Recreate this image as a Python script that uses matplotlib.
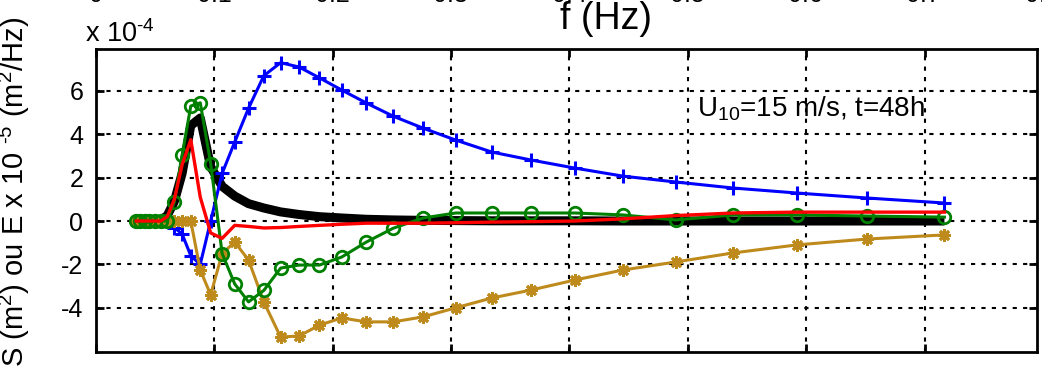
import matplotlib
matplotlib.use("Agg")
import matplotlib.pyplot as plt

plt.rcParams['font.family'] = ['Liberation Sans', 'DejaVu Sans']
plt.rcParams['mathtext.fontset'] = 'custom'
plt.rcParams['mathtext.rm'] = 'Liberation Sans'
plt.rcParams['mathtext.it'] = 'Liberation Sans:italic'
plt.rcParams['mathtext.default'] = 'regular'
plt.rcParams['axes.unicode_minus'] = False

# frequencies (Hz)
freq = [0.0340, 0.0374, 0.0411, 0.0452, 0.0497, 0.0547, 0.0602, 0.0662, 0.0728,
        0.0801, 0.0881, 0.0969, 0.1066, 0.1172, 0.1289, 0.1418, 0.1560, 0.1716,
        0.1888, 0.2076, 0.2284, 0.2512, 0.2764, 0.3040, 0.3344, 0.3678, 0.4046,
        0.4451, 0.4896, 0.5385, 0.5924, 0.6516, 0.7168]

# values in units of 1e-4
E_spec = [0, 0, 0, 0, 0, 0.05, 0.25, 0.9, 2.2, 4.4, 4.75, 2.5, 1.6, 1.15, 0.8,
          0.6, 0.42, 0.3, 0.2, 0.14, 0.08, 0.05, 0.03, 0.02, 0.01, 0.01, 0.01,
          0, 0, 0, 0, 0, 0]
S_blue = [0, 0, 0, 0, 0, 0, 0, -0.3, -0.6, -1.6, -2.0, 0.0, 2.2, 3.64, 5.2, 6.7,
          7.3, 7.1, 6.6, 6.04, 5.44, 4.83, 4.28, 3.73, 3.18, 2.81, 2.44, 2.07,
          1.8, 1.52, 1.29, 1.06, 0.83]
S_green = [0, 0, 0, 0, 0, 0, 0, 0.88, 3.04, 5.3, 5.45, 2.65, -1.5, -2.9, -3.73,
           -3.2, -2.17, -2.03, -2.03, -1.66, -0.97, -0.33, 0.14, 0.37, 0.37,
           0.37, 0.37, 0.28, 0.05, 0.28, 0.28, 0.23, 0.18]
S_gold = [0, 0, 0, 0, 0, 0, 0, 0, 0, 0, -2.26, -3.4, -1.5, -0.97, -1.8, -3.73,
          -5.35, -5.3, -4.8, -4.47, -4.65, -4.65, -4.42, -4.0, -3.55, -3.18,
          -2.72, -2.26, -1.89, -1.47, -1.1, -0.83, -0.64]
S_red = [0, 0, 0, 0, 0, 0, 0.2, 1.0, 2.6, 3.75, 1.1, -0.55, -0.8, -0.2, -0.25,
         -0.32, -0.3, -0.25, -0.2, -0.15, -0.1, -0.1, -0.1, -0.08, -0.05, -0.03,
         0.0, 0.1, 0.25, 0.37, 0.41, 0.41, 0.41]

xticks = [0, 0.1, 0.2, 0.3, 0.4, 0.5, 0.6, 0.7]
yticks = [-4, -2, 0, 2, 4, 6]
top_ticks = [0, 0.1, 0.2, 0.3, 0.4, 0.5, 0.6, 0.7, 0.8]
top_labels = ['0', '0.1', '0.2', '0.3', '0.4', '0.5', '0.6', '0.7', '0.8']

gold = '#BF8A1C'

fig = plt.figure(figsize=(10.42, 3.70), dpi=100)
ax = fig.add_axes([0.0921, 0.0486, 0.9031, 0.8189])

ax.plot(freq, E_spec, color='black', lw=6.5, zorder=2, solid_capstyle='butt')
ax.plot(freq, S_blue, color='blue', lw=2.2, marker='+', ms=10, mew=2.2, zorder=3)
ax.plot(freq, S_gold, color=gold, lw=2.2, marker=(8, 2, 0), ms=9, mew=2, zorder=4)
ax.plot(freq, S_green, color='#008000', lw=2.2, marker='o', ms=9, mew=2,
        mfc='none', zorder=5)
ax.plot(freq, S_red, color='red', lw=2.4, zorder=6)

ax.set_xlim(0, 0.795)
ax.set_ylim(-6.04, 7.93)
ax.set_xticks(xticks)
ax.set_yticks(yticks)
ax.set_xticklabels([])
ax.set_yticklabels([str(v) for v in yticks])
ax.grid(True, color='black', linestyle=(0, (2, 3)), lw=1.5)
ax.tick_params(direction='in', top=True, right=True, length=6, width=2,
               labelsize=18, pad=9)
for s in ax.spines.values():
    s.set_linewidth(2)

ax.set_ylabel(r'S (m$^2$) ou E x 10 $^{\text{-}5}$ (m$^2$/Hz)', fontsize=21)
ax.yaxis.set_label_coords(-0.068, 0.53)

ax.text(0.508, 4.84, 'U$_{10}$=15 m/s, t=48h', fontsize=20, va='baseline')

fig.text(0.0816, 0.886, r'x 10$^{\text{-}4}$', fontsize=19.5, va='baseline')

# remains of the panel above (cut off by the crop)
ax_top = fig.add_axes([0.0921, 1.047, 0.9079, 0.2])
ax_top.set_xlim(0, 0.8)
ax_top.set_xticks(top_ticks)
ax_top.set_xticklabels(top_labels)
ax_top.set_yticks([])
ax_top.tick_params(length=0, labelsize=18, pad=0)
for s in ax_top.spines.values():
    s.set_visible(False)
ax_top.patch.set_visible(False)

fig.text(0.582, 0.997, 'f (Hz)', fontsize=27, ha='center', va='top')

fig.savefig('out.png', dpi=100)
